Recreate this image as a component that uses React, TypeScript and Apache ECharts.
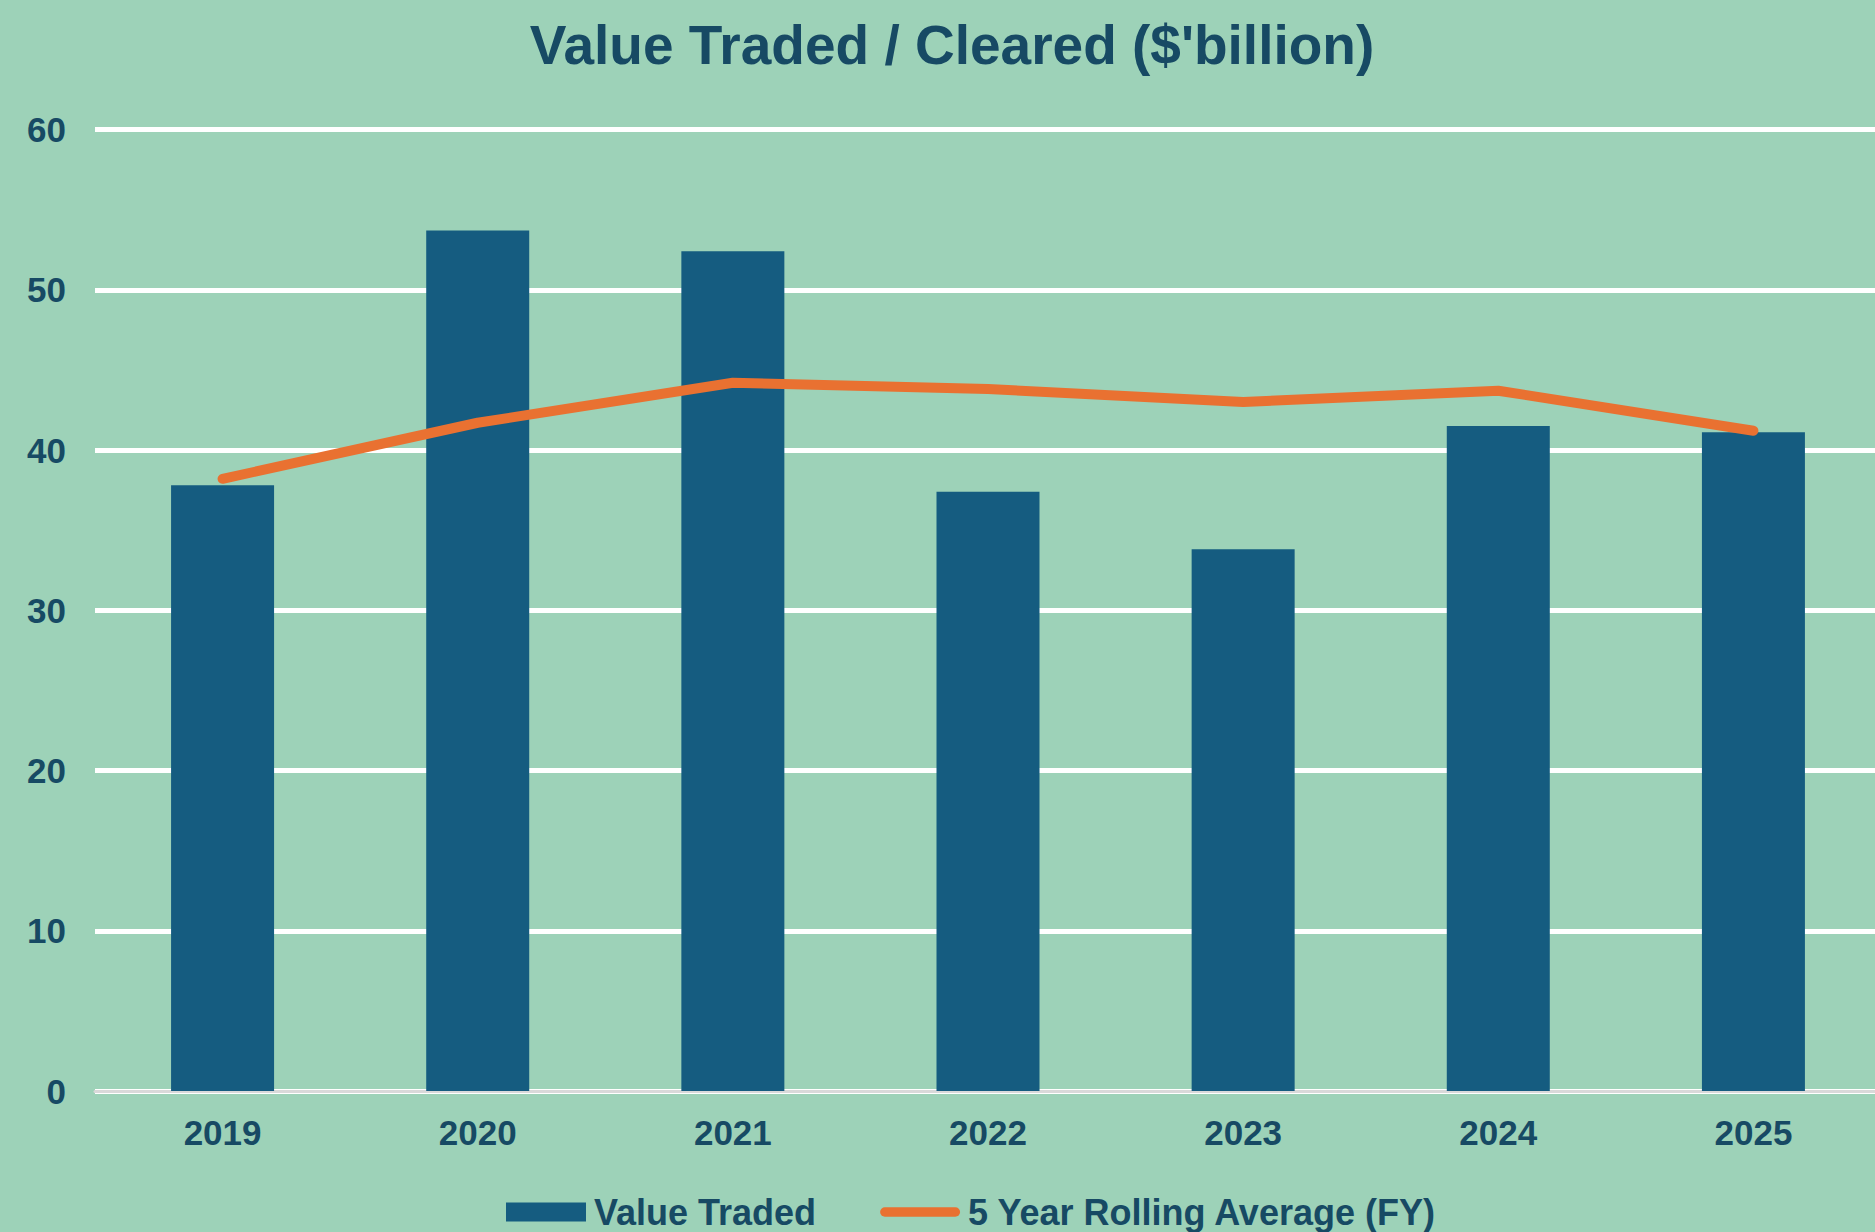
import React, { useEffect, useRef } from "react";
import * as echarts from "echarts";

const titleText = "Value Traded / Cleared ($'billion)";
const years = ["2019", "2020", "2021", "2022", "2023", "2024", "2025"];
const valueTraded = [37.8, 53.7, 52.4, 37.4, 33.8, 41.5, 41.1];
const rollingAvg = [38.2, 41.7, 44.2, 43.8, 43.0, 43.7, 41.2];
const barName = "Value Traded";
const lineName = "5 Year Rolling Average (FY)";

const BG = "#9DD2B8";
const BAR = "#155C80";
const TEXT = "#174A64";
const ORANGE = "#E97131";
const FONT = "'Liberation Sans', Arial, Helvetica, sans-serif";

export default function App() {
  const ref = useRef<HTMLDivElement>(null);
  useEffect(() => {
    document.body.style.margin = "0";
    document.body.style.overflow = "hidden";
    const chart = echarts.init(ref.current!, null, { renderer: "svg" });
    chart.setOption({
      animation: false,
      backgroundColor: BG,
      title: {
        text: titleText,
        left: 947,
        top: 12,
        textAlign: "center",
        textStyle: { color: TEXT, fontFamily: FONT, fontWeight: "bold", fontSize: 55 },
      },
      legend: {
        left: 506,
        top: 1194,
        padding: 0,
        itemWidth: 80,
        itemHeight: 19,
        itemGap: 64,
        textStyle: { color: TEXT, fontFamily: FONT, fontWeight: "bold", fontSize: 36, padding: [0, 0, 0, 3] },
        data: [
          { name: barName, icon: "rect" },
          {
            name: lineName,
            icon: "path://M5,0 L79,0 A5,5 0 0 1 79,10 L5,10 A5,5 0 0 1 5,0 Z",
            itemStyle: { color: ORANGE },
          },
        ],
      },
      grid: { left: 95, top: 129.5, width: 1786, height: 961.5, containLabel: false },
      xAxis: {
        type: "category",
        data: years,
        axisTick: { show: false },
        axisLine: { show: true, lineStyle: { color: "#D9D9D9", width: 3 } },
        axisLabel: { color: TEXT, fontFamily: FONT, fontWeight: "bold", fontSize: 35, margin: 24 },
      },
      yAxis: {
        type: "value",
        min: 0,
        max: 60,
        interval: 10,
        axisLine: { show: false },
        axisTick: { show: false },
        axisLabel: { color: TEXT, fontFamily: FONT, fontWeight: "bold", fontSize: 35, margin: 29 },
        splitLine: { show: true, lineStyle: { color: "#FFFFFF", width: 5 } },
      },
      series: [
        {
          name: barName,
          type: "bar",
          data: valueTraded,
          barWidth: 103,
          itemStyle: { color: BAR },
        },
        {
          name: lineName,
          type: "line",
          data: rollingAvg,
          symbol: "none",
          lineStyle: { color: ORANGE, width: 10, cap: "round", join: "round" },
          itemStyle: { color: ORANGE },
        },
      ],
    });
    return () => chart.dispose();
  }, []);
  return (
    <div
      ref={ref}
      style={{ position: "fixed", left: 0, top: 0, width: 1886, height: 1232 }}
    />
  );
}
